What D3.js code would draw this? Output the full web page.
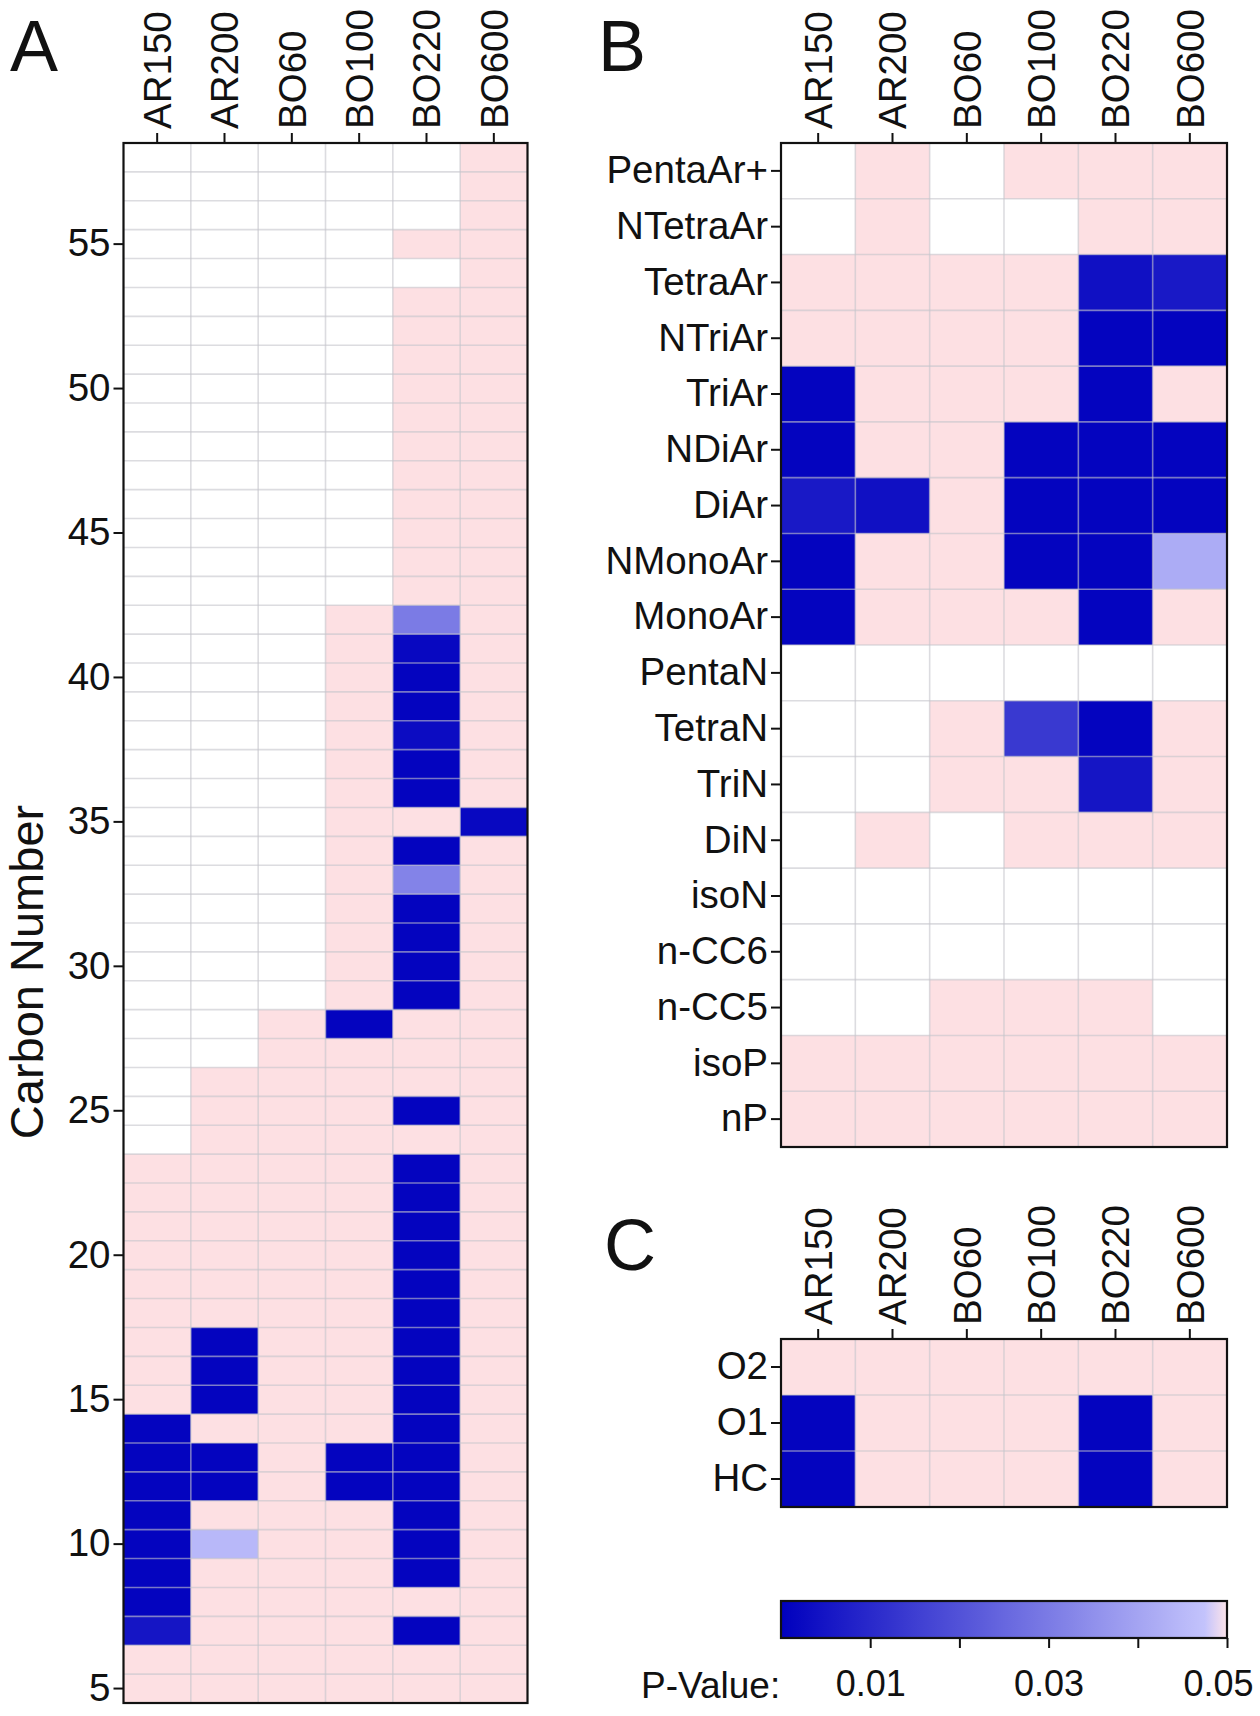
<!DOCTYPE html>
<html><head><meta charset="utf-8">
<script src="https://cdn.jsdelivr.net/npm/d3@7"></script>
<style>
html,body{margin:0;padding:0;background:#fff;}
svg{display:block;font-family:"Liberation Sans",Arial,Helvetica,sans-serif;}
</style>
</head><body>
<svg id="chart" width="1260" height="1716"></svg>
<script>
// ---------------- DATA ----------------
const N = null;      // no data (white)
const NS = 1;        // p > 0.05, not significant (pink)
const samples = ["AR150","AR200","BO60","BO100","BO220","BO600"];

// Panel A: carbon numbers 5..58
const carbonNumbers = [5,6,7,8,9,10,11,12,13,14,15,16,17,18,19,20,21,22,23,24,25,26,27,28,29,30,31,32,33,34,35,36,37,38,39,40,41,42,43,44,45,46,47,48,49,50,51,52,53,54,55,56,57,58];
const carbonTicks = [5,10,15,20,25,30,35,40,45,50,55];
const aAR150 = [NS,NS,.005,.001,.001,.001,.001,.001,.001,.001,
                NS,NS,NS,NS,NS,NS,NS,NS,NS,N,
                N,N,N,N,N,N,N,N,N,N,
                N,N,N,N,N,N,N,N,N,N,
                N,N,N,N,N,N,N,N,N,N,
                N,N,N,N];
const aAR200 = [NS,NS,NS,NS,NS,.045,NS,.001,.001,NS,
                .001,.001,.001,NS,NS,NS,NS,NS,NS,NS,
                NS,NS,N,N,N,N,N,N,N,N,
                N,N,N,N,N,N,N,N,N,N,
                N,N,N,N,N,N,N,N,N,N,
                N,N,N,N];
const aBO60  = [NS,NS,NS,NS,NS,NS,NS,NS,NS,NS,
                NS,NS,NS,NS,NS,NS,NS,NS,NS,NS,
                NS,NS,NS,NS,N,N,N,N,N,N,
                N,N,N,N,N,N,N,N,N,N,
                N,N,N,N,N,N,N,N,N,N,
                N,N,N,N];
const aBO100 = [NS,NS,NS,NS,NS,NS,NS,.001,.001,NS,
                NS,NS,NS,NS,NS,NS,NS,NS,NS,NS,
                NS,NS,NS,.001,NS,NS,NS,NS,NS,NS,
                NS,NS,NS,NS,NS,NS,NS,NS,N,N,
                N,N,N,N,N,N,N,N,N,N,
                N,N,N,N];
const aBO220 = [NS,NS,.001,NS,.001,.001,.001,.001,.001,.001,
                .001,.001,.001,.001,.001,.001,.001,.001,.001,NS,
                .001,NS,NS,NS,.001,.001,.001,.001,.032,.001,
                NS,.001,.001,.003,.001,.001,.002,.030,NS,NS,
                NS,NS,NS,NS,NS,NS,NS,NS,NS,N,
                NS,N,N,N];
const aBO600 = [NS,NS,NS,NS,NS,NS,NS,NS,NS,NS,
                NS,NS,NS,NS,NS,NS,NS,NS,NS,NS,
                NS,NS,NS,NS,NS,NS,NS,NS,NS,NS,
                .002,NS,NS,NS,NS,NS,NS,NS,NS,NS,
                NS,NS,NS,NS,NS,NS,NS,NS,NS,NS,
                NS,NS,NS,NS];

// Panel B: hydrocarbon classes (top to bottom)
const bRows = ["PentaAr+","NTetraAr","TetraAr","NTriAr","TriAr","NDiAr","DiAr","NMonoAr","MonoAr","PentaN","TetraN","TriN","DiN","isoN","n-CC6","n-CC5","isoP","nP"];
const bAR150 = [N,N,NS,NS,.001,.001,.006,.001,.001,N,N,N,N,N,N,N,NS,NS];
const bAR200 = [NS,NS,NS,NS,NS,NS,.004,NS,NS,N,N,N,NS,N,N,N,NS,NS];
const bBO60  = [N,N,NS,NS,NS,NS,NS,NS,NS,N,NS,NS,N,N,N,NS,NS,NS];
const bBO100 = [NS,N,NS,NS,NS,.001,.001,.001,NS,N,.014,NS,NS,N,N,NS,NS,NS];
const bBO220 = [NS,NS,.004,.001,.001,.001,.001,.001,.001,N,.001,.005,NS,N,N,NS,NS,NS];
const bBO600 = [NS,NS,.006,.001,NS,.001,.001,.042,NS,N,NS,NS,NS,N,N,N,NS,NS];

// Panel C: heteroatom classes
const cRows = ["O2","O1","HC"];
const cAR150 = [NS,.001,.001];
const cAR200 = [NS,NS,NS];
const cBO60  = [NS,NS,NS];
const cBO100 = [NS,NS,NS];
const cBO220 = [NS,.001,.001];
const cBO600 = [NS,NS,NS];

// Legend
const legendTicks = [0.01,0.02,0.03,0.04,0.05];
const legendLabels = ["0.01","","0.03","","0.05"];

// ---------------- DRAW ----------------
const svg = d3.select("#chart");
const FONT = 38.5;
const pink = "#fde0e3";
const blue = d3.scaleLinear().domain([0, 0.05]).range(["rgb(0,0,190)", "rgb(205,205,255)"]).clamp(true);
function fillOf(v){ if (v === null) return "#ffffff"; if (v > 0.05) return pink; return blue(v); }

function panel(opts){
  const {x0,x1,y0,y1,rows,cols,tickVals,labelFont} = opts;
  const g = svg.append("g");
  const x = d3.scaleBand().domain(samples).range([x0,x1]);
  const y = d3.scaleBand().domain(rows).range([y0,y1]);
  const cells = [];
  samples.forEach((s,i)=>{ rows.forEach((r,j)=>{ cells.push({s, r, v: cols[i][j]}); }); });
  g.selectAll("rect.cell").data(cells).join("rect").attr("class","cell")
    .attr("x", d=>x(d.s)).attr("y", d=>y(d.r))
    .attr("width", x.bandwidth()+0.5).attr("height", y.bandwidth()+0.5)
    .attr("fill", d=>fillOf(d.v));
  // grid lines
  const grid = g.append("g").attr("stroke","#c4c4cc").attr("stroke-opacity",0.6).attr("stroke-width",1.6);
  samples.slice(1).forEach(s=>{ grid.append("line").attr("x1",x(s)).attr("x2",x(s)).attr("y1",y0).attr("y2",y1); });
  rows.slice(1).forEach(r=>{ grid.append("line").attr("y1",y(r)).attr("y2",y(r)).attr("x1",x0).attr("x2",x1); });
  // frame
  g.append("rect").attr("x",x0).attr("y",y0).attr("width",x1-x0).attr("height",y1-y0)
    .attr("fill","none").attr("stroke","#111").attr("stroke-width",2.2);
  // top axis
  const ax = g.append("g").attr("transform",`translate(0,${y0})`)
    .call(d3.axisTop(x).tickSize(10).tickSizeOuter(0));
  ax.select(".domain").remove();
  ax.selectAll(".tick line").attr("stroke","#111").attr("stroke-width",2);
  ax.selectAll(".tick text").attr("transform","rotate(-90)").attr("x",14).attr("y",0)
    .attr("dy","0.36em").attr("text-anchor","start")
    .attr("font-size",labelFont).attr("font-family","Liberation Sans, Arial, sans-serif").attr("fill","#111");
  // left axis
  const ay = g.append("g").attr("transform",`translate(${x0},0)`)
    .call(d3.axisLeft(y).tickValues(tickVals || rows).tickSize(10).tickSizeOuter(0));
  ay.select(".domain").remove();
  ay.selectAll(".tick line").attr("stroke","#111").attr("stroke-width",2);
  ay.selectAll(".tick text").attr("x",-13).attr("font-size",labelFont)
    .attr("font-family","Liberation Sans, Arial, sans-serif").attr("fill","#111");
  return g;
}

// Panel A (carbon numbers, top = highest)
const carbonDesc = carbonNumbers.slice().reverse();
function rev(a){ return a.slice().reverse(); }
panel({x0:123.5, x1:527.5, y0:143, y1:1703, rows:carbonDesc,
  cols:[rev(aAR150),rev(aAR200),rev(aBO60),rev(aBO100),rev(aBO220),rev(aBO600)],
  tickVals:carbonTicks, labelFont:FONT});
panel({x0:781, x1:1227, y0:143, y1:1147, rows:bRows,
  cols:[bAR150,bAR200,bBO60,bBO100,bBO220,bBO600], labelFont:FONT});
panel({x0:781, x1:1227, y0:1339, y1:1507, rows:cRows,
  cols:[cAR150,cAR200,cBO60,cBO100,cBO220,cBO600], labelFont:FONT});

// Axis title
svg.append("text").attr("transform","translate(43,972) rotate(-90)")
  .attr("text-anchor","middle").attr("font-size",47).attr("fill","#111").text("Carbon Number");

// Panel letters
svg.append("text").attr("x",10).attr("y",71).attr("font-size",72).attr("fill","#111").text("A");
svg.append("text").attr("x",598).attr("y",71).attr("font-size",72).attr("fill","#111").text("B");
svg.append("text").attr("x",604).attr("y",1270).attr("font-size",72).attr("fill","#111").text("C");

// Legend
const lx0 = 781, lx1 = 1227, ly0 = 1601, ly1 = 1638;
const lscale = d3.scaleLinear().domain([0,0.05]).range([lx0,lx1]);
const defs = svg.append("defs");
const grad = defs.append("linearGradient").attr("id","pgrad").attr("x1","0%").attr("x2","100%");
const stops = d3.range(0, 0.951, 0.05).map(t=>({o:t, c: blue(t*0.05)}));
stops.push({o:1, c: "#fde4ea"});
grad.selectAll("stop").data(stops).join("stop").attr("offset",d=>(d.o*100)+"%").attr("stop-color",d=>d.c);
svg.append("rect").attr("x",lx0).attr("y",ly0).attr("width",lx1-lx0).attr("height",ly1-ly0)
  .attr("fill","url(#pgrad)").attr("stroke","#111").attr("stroke-width",2.2);
const lg = svg.append("g").attr("transform",`translate(0,${ly1})`)
  .call(d3.axisBottom(lscale).tickValues(legendTicks).tickSize(10).tickFormat((d,i)=>legendLabels[i]));
lg.select(".domain").remove();
lg.selectAll(".tick line").attr("stroke","#111").attr("stroke-width",2);
lg.selectAll(".tick text").attr("y",32).attr("dy","0.71em").attr("font-size",36)
  .attr("font-family","Liberation Sans, Arial, sans-serif").attr("fill","#111")
  .attr("dx",(d,i)=> i===legendTicks.length-1 ? -9 : 0);
svg.append("text").attr("x",641).attr("y",1698).attr("font-size",37).attr("fill","#111").text("P-Value:");
</script>
</body></html>
